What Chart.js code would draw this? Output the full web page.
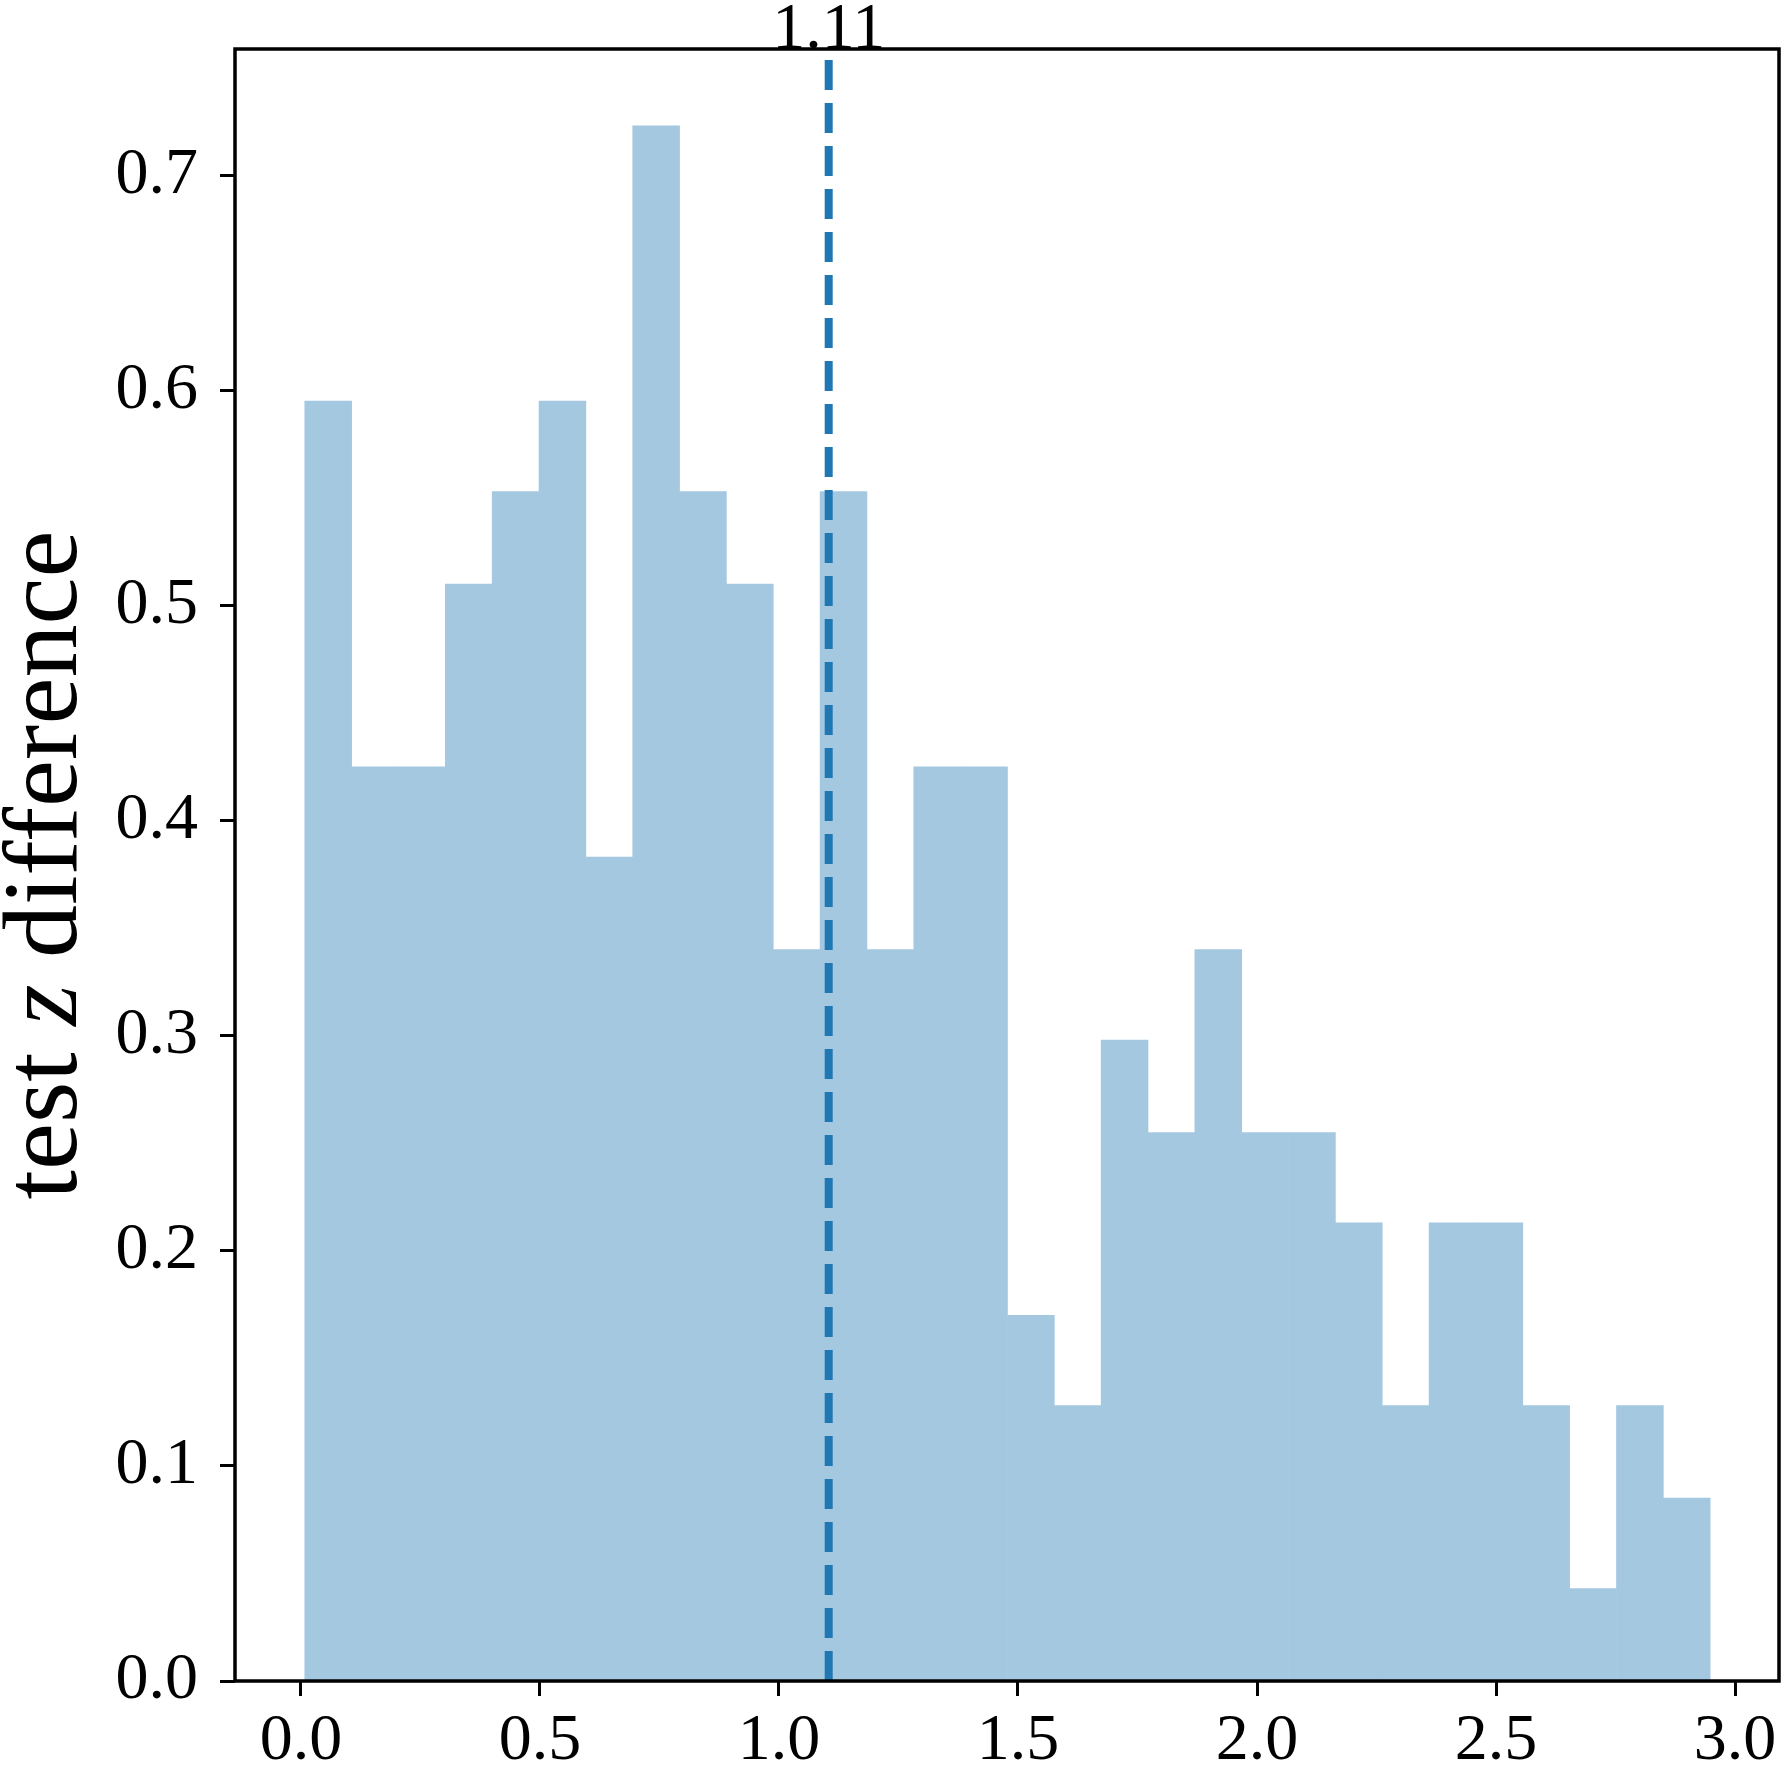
<!DOCTYPE html>
<html>
<head>
<meta charset="utf-8">
<script src="https://cdn.jsdelivr.net/npm/chart.js@4.4.1/dist/chart.umd.min.js"></script>
<style>
  html, body { margin: 0; padding: 0; background: #fff; }
  #wrap { width: 1783px; height: 1783px; }
</style>
</head>
<body>
<div id="wrap"><canvas id="c" width="1783" height="1783"></canvas></div>
<script>
// histogram bins (centres) and density heights
const binCenters = [0.057, 0.155, 0.253, 0.351, 0.449, 0.547, 0.645, 0.743, 0.841, 0.939,
  1.037, 1.135, 1.233, 1.331, 1.429, 1.527, 1.625, 1.723, 1.821, 1.919,
  2.017, 2.115, 2.213, 2.311, 2.409, 2.507, 2.605, 2.703, 2.801, 2.899];
const density = [0.595, 0.425, 0.425, 0.510, 0.553, 0.595, 0.383, 0.723, 0.553, 0.510,
  0.340, 0.553, 0.340, 0.425, 0.425, 0.170, 0.128, 0.298, 0.255, 0.340,
  0.255, 0.255, 0.213, 0.128, 0.213, 0.213, 0.128, 0.043, 0.128, 0.085];
const xTicks = [0.0, 0.5, 1.0, 1.5, 2.0, 2.5, 3.0];
const yTicks = [0.0, 0.1, 0.2, 0.3, 0.4, 0.5, 0.6, 0.7];
const medianValue = 1.104;
const medianLabel = '1.11';
// y title pieces: the "z" is set in italic
const yTitleParts = [['test ', false], ['z', true], [' difference', false]];

const FONT = "'Liberation Serif', serif";
const BAR = '#a5c8e1';
const LINE = '#1f77b4';

// frame, dashed marker, its label, and the y title
const extras = {
  id: 'extras',
  afterDatasetsDraw(chart) {
    const { ctx, chartArea: a, scales } = chart;
    const x = scales.x.getPixelForValue(medianValue);
    ctx.save();
    ctx.strokeStyle = LINE;
    ctx.lineWidth = 8;
    ctx.setLineDash([30, 13]);
    ctx.beginPath();
    ctx.moveTo(x, a.bottom);
    ctx.lineTo(x, a.top);
    ctx.stroke();
    ctx.restore();
  },
  afterDraw(chart) {
    const { ctx, chartArea: a, scales } = chart;
    ctx.save();
    ctx.strokeStyle = '#000';
    ctx.lineWidth = 3.5;
    ctx.strokeRect(a.left, a.top, a.right - a.left, a.bottom - a.top);

    ctx.fillStyle = '#000';
    ctx.font = `66px ${FONT}`;
    ctx.textAlign = 'center';
    ctx.textBaseline = 'alphabetic';
    ctx.fillText(medianLabel, scales.x.getPixelForValue(medianValue), a.top - 1);

    // rotated y title
    const size = 106;
    const fontOf = it => `${it ? 'italic ' : ''}${size}px ${FONT}`;
    let total = 0;
    yTitleParts.forEach(([t, it]) => { ctx.font = fontOf(it); total += ctx.measureText(t).width; });
    ctx.translate(76, (a.top + a.bottom) / 2);
    ctx.rotate(-Math.PI / 2);
    ctx.textAlign = 'left';
    let pos = -total / 2;
    yTitleParts.forEach(([t, it]) => {
      ctx.font = fontOf(it);
      ctx.fillText(t, pos, 0);
      pos += ctx.measureText(t).width;
    });
    ctx.restore();
  }
};

const tickGrid = {
  display: true, drawOnChartArea: false, drawTicks: true, offset: false,
  tickLength: 15, tickWidth: 3, tickColor: '#000',
};

new Chart(document.getElementById('c'), {
  type: 'bar',
  data: {
    datasets: [{
      data: binCenters.map((x, i) => ({ x, y: density[i] })),
      backgroundColor: BAR,
      borderWidth: 0,
      barPercentage: 1,
      categoryPercentage: 1,
    }],
  },
  options: {
    responsive: false,
    animation: false,
    devicePixelRatio: 1,
    layout: { padding: { top: 49, right: 4, left: 0, bottom: 0 } },
    plugins: { legend: { display: false }, tooltip: { enabled: false } },
    scales: {
      x: {
        type: 'linear',
        min: -0.138,
        max: 3.092,
        offset: false,
        afterBuildTicks: s => { s.ticks = xTicks.map(v => ({ value: v })); },
        afterFit: s => { s.height = 102; s.paddingLeft = 0; s.paddingRight = 0; },
        ticks: {
          color: '#000',
          font: { family: FONT, size: 66 },
          padding: 6,
          maxRotation: 0,
          autoSkip: false,
          callback: v => Number(v).toFixed(1),
        },
        grid: tickGrid,
        border: { display: false },
      },
      y: {
        min: 0,
        max: 0.7587,
        afterBuildTicks: s => { s.ticks = yTicks.map(v => ({ value: v })); },
        afterFit: s => { s.width = 235; s.paddingTop = 0; s.paddingBottom = 0; },
        ticks: {
          color: '#000',
          font: { family: FONT, size: 66 },
          padding: 22,
          autoSkip: false,
          callback: v => Number(v).toFixed(1),
        },
        grid: tickGrid,
        border: { display: false },
      },
    },
  },
  plugins: [extras],
});
</script>
</body>
</html>
